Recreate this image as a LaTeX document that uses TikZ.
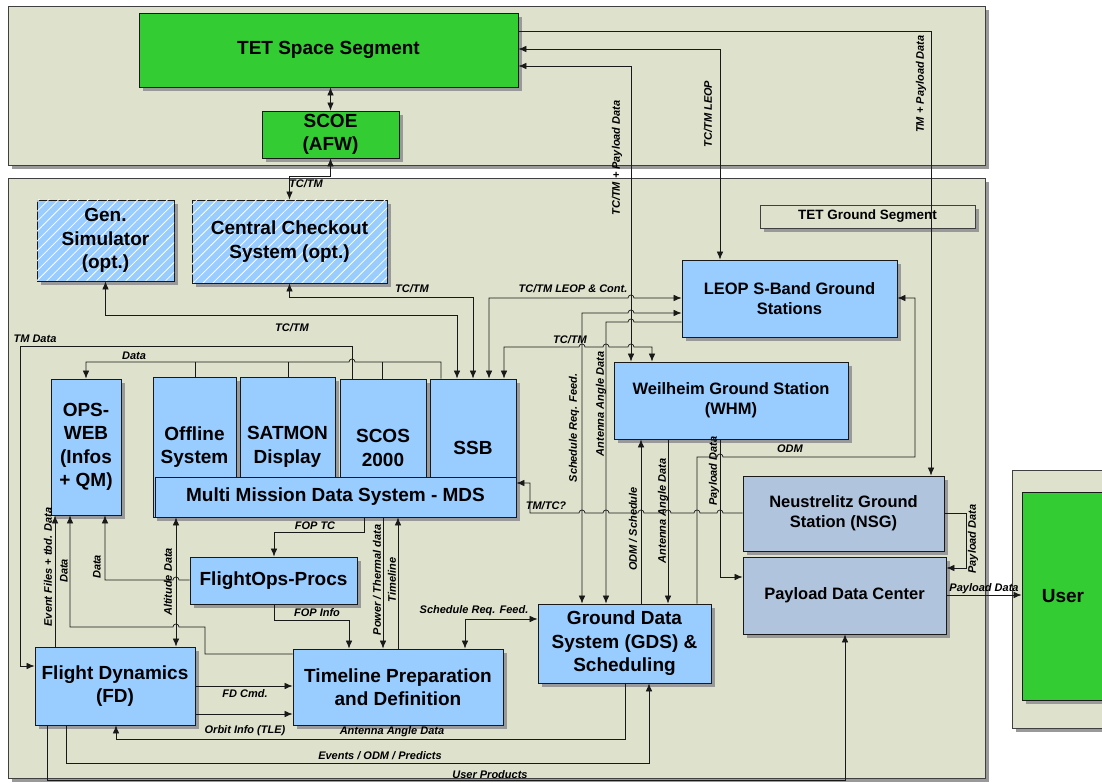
\documentclass[tikz,border=0pt]{standalone}
\usepackage{fontspec}
\setmainfont{Liberation Sans}
\usetikzlibrary{arrows.meta,shadows,patterns.meta}
\definecolor{panelc}{HTML}{DEE1CC}
\definecolor{boxblue}{HTML}{99CCFF}
\definecolor{nsgc}{HTML}{B0C4DE}
\definecolor{segreen}{HTML}{33CC33}
\newcommand{\BoxFont}{\bfseries\fontsize{19}{23.5}\selectfont}
\newcommand{\MidFont}{\bfseries\fontsize{16.5}{20}\selectfont}
\newcommand{\TgsFont}{\bfseries\fontsize{13.5}{16}\selectfont}
\newcommand{\LblFont}{\bfseries\itshape\fontsize{11}{12}\selectfont}
\def\jr#1#2{-- ({#1-3},#2) arc[start angle=180,end angle=360,radius=3] }
\def\jl#1#2{-- ({#1+3},#2) arc[start angle=0,end angle=-180,radius=3] }
\tikzset{
 sh/.style={drop shadow={shadow xshift=4pt,shadow yshift=-4pt,fill=black!40,opacity=1}},
 panel/.style={draw=black!75,fill=panelc,line width=0.8pt,sh,inner sep=0pt},
 box/.style={draw=black!90,fill=boxblue,line width=0.8pt,sh,inner sep=0pt,align=center,font=\BoxFont},
 gbox/.style={box,fill=segreen},
 sbox/.style={box,fill=nsgc},
 hbox/.style={box,postaction={pattern={Lines[angle=45,distance=7pt,line width=0.8pt]},pattern color=white}},
 conn/.style={draw=black!90,line width=0.7pt},
 lbl/.style={font=\LblFont,inner sep=1pt},
 vl/.style={lbl,rotate=90},
}
\begin{document}
\begin{tikzpicture}[x=1pt,y=-1pt,>={Latex[length=8pt,width=6.5pt]}]
\fill[white] (0,0) rectangle (1102,783);
\useasboundingbox (0,0) rectangle (1102,783);
% panels
\node[panel,minimum width=977pt,minimum height=159pt] (toppanel) at (496.5,85.5) {};
\node[panel,minimum width=977pt,minimum height=600pt] (botpanel) at (496.5,478) {};
\node[panel,minimum width=98pt,minimum height=258pt] (userpanel) at (1061,599) {};
% boxes
\node[gbox,minimum width=379pt,minimum height=74pt] (tet) at (328.5,50) {TET Space Segment};
\node[gbox,minimum width=137pt,minimum height=47pt] (scoe) at (330.5,134.5) {SCOE\\(AFW)};
\node[gbox,minimum width=82pt,minimum height=208pt] (user) at (1063,596) {User};
\node[hbox,minimum width=137pt,minimum height=81pt] (gensim) at (105.5,240.5) {Gen.\\Simulator\\(opt.)};
\node[hbox,minimum width=195pt,minimum height=83pt] (ccs) at (289.5,241.5) {Central Checkout\\System (opt.)};
\node[panel,font=\TgsFont,minimum width=215pt,minimum height=23pt] (tgs) at (867.5,216.5) {TET Ground Segment};
\node[box,font=\MidFont,minimum width=215pt,minimum height=77pt] (leop) at (789.5,298.5) {LEOP S-Band Ground\\Stations};
\node[box,font=\MidFont,minimum width=234pt,minimum height=77pt] (whm) at (731,400.5) {Weilheim Ground Station\\(WHM)};
\node[sbox,font=\MidFont,minimum width=201pt,minimum height=75pt] (nsg) at (843.5,513.5) {Neustrelitz Ground\\Station (NSG)};
\node[sbox,font=\MidFont,minimum width=203pt,minimum height=77pt] (pdc) at (844.5,595.5) {Payload Data Center};
\node[box,minimum width=173pt,minimum height=79pt] (gds) at (624.5,643.5) {Ground Data\\System (GDS) \&\\Scheduling};
\node[box,minimum width=210pt,minimum height=76pt] (tpd) at (398,687) {Timeline Preparation\\and Definition};
\node[box,minimum width=160pt,minimum height=78pt] (fd) at (115,686) {Flight Dynamics\\(FD)};
\node[box,minimum width=167pt,minimum height=47pt] (fop) at (273.5,580.5) {FlightOps-Procs};
\node[box,minimum width=70pt,minimum height=136pt] (opsweb) at (86,447) {OPS-\\WEB\\(Infos\\+ QM)};
\node[box,minimum width=83pt,minimum height=140pt] (offline) at (194.5,447) {Offline\\System};
\node[box,minimum width=95pt,minimum height=140pt] (satmon) at (287.5,447) {SATMON\\Display};
\node[box,minimum width=86pt,minimum height=138pt] (scos) at (383,448) {SCOS\\2000};
\node[box,minimum width=86pt,minimum height=138pt] (ssb) at (473,448) {SSB};
\node[box,minimum width=361pt,minimum height=40pt] (mds) at (335.5,497) {Multi Mission Data System - MDS};
% connectors
\draw[conn,<->] (tet.south -| scoe.north) -- (scoe.north);
\draw[conn,<->] (scoe.south) -- (scoe.south |- 0,176) -- (ccs.north |- 0,176) -- (ccs.north);
\draw[conn,->] (tet.east |- 0,31) -- (931,31) -- (nsg.north -| 931,0);
\draw[conn,<->] (tet.east |- 0,49) -- (720,49) -- (leop.north -| 720,0);
\draw[conn,<->] (tet.east |- 0,66) -- (631,66) -- (whm.north -| 631,0);
\draw[conn,<->] (ccs.south) -- (ccs.south |- 0,297) -- (473,297) -- (ssb.north -| 473,0);
\draw[conn,<->] (gensim.south) -- (gensim.south |- 0,315) -- (457,315) -- (ssb.north -| 457,0);
\draw[conn,<->] (ssb.north -| 489,0) -- (489,298) \jr{631}{298} -- (leop.west |- 0,298);
\draw[conn,<->] (gds.north -| 582,0) -- (582,313) \jr{631}{313} -- (leop.west |- 0,313);
\draw[conn,->] (leop.west |- 0,322) \jl{631}{322} -- (606,322) -- (gds.north -| 606,0);
\draw[conn,<->] (ssb.north -| 504,0) -- (504,347) \jr{582}{347} \jr{606}{347} \jr{631}{347} -- (652,347) -- (whm.north -| 652,0);
\draw[conn,->] (gds.north -| 641,0) -- (whm.south -| 641,0);
\draw[conn,->] (whm.south -| 668,0) -- (gds.north -| 668,0);
\draw[conn,->] (whm.south -| 720,0) -- (720,577) -- (pdc.west |- 0,577);
\draw[conn,->] (gds.north -| 697,0) -- (697,457) \jr{720}{457} -- (915,457) -- (915,298) -- (leop.east |- 0,298);
\draw[conn,->] (nsg.west |- 0,513) \jl{720}{513} \jl{697}{513} \jl{668}{513} \jl{641}{513} \jl{606}{513} \jl{582}{513} -- (530,513) -- (530,483) -- (mds.east |- 0,483);
\draw[conn,->] (nsg.east |- 0,513) -- (966,513) -- (966,568) -- (pdc.east |- 0,568);
\draw[conn,->] (pdc.east |- 0,595) -- (user.west |- 0,595);
\draw[conn,->] (fd.south -| 47,0) -- (47,780) -- (845,780) -- (pdc.south -| 845,0);
\draw[conn,->] (fd.south -| 66,0) -- (66,763) -- (649,763) -- (gds.south -| 649,0);
\draw[conn,->] (gds.south -| 625,0) -- (625,739) -- (116,739) -- (fd.south -| 116,0);
\draw[conn,->] (fd.east |- 0,686) -- (tpd.west |- 0,686);
\draw[conn,->] (fd.east |- 0,714) -- (tpd.west |- 0,714);
\draw[conn,->] (fop.south -| 274,0) -- (274,620) -- (349,620) -- (tpd.north -| 349,0);
\draw[conn,->] (mds.south -| 364,0) -- (364,532) -- (274,532) -- (fop.north -| 274,0);
\draw[conn,->] (mds.south -| 383,0) -- (tpd.north -| 383,0);
\draw[conn,->] (tpd.north -| 398,0) -- (mds.south -| 398,0);
\draw[conn,<->] (mds.south -| 176,0) -- (fd.north -| 176,0);
\draw[conn,->] (fop.west |- 0,580) \jl{176}{580} -- (105,580) -- (opsweb.south -| 105,0);
\draw[conn,->] (tpd.west |- 0,654) -- (205,654) -- (205,627) \jl{176}{627} -- (70,627) -- (opsweb.south -| 70,0);
\draw[conn,->] (fd.north -| 55,0) -- (opsweb.south -| 55,0);
\draw[conn,->] (scos.north -| 352,0) -- (352,346) -- (20,346) -- (20,666) -- (fd.west |- 0,666);
\draw[conn,->] (ssb.north -| 441,0) -- (441,362) \jl{352}{362} -- (86,362) -- (opsweb.north -| 86,0);
\draw[conn] (195,362) -- (offline.north -| 195,0);
\draw[conn] (288,362) -- (satmon.north -| 288,0);
\draw[conn] (382,362) -- (scos.north -| 382,0);
\draw[conn,<->] (tpd.north -| 465,0) -- (465,619) -- (gds.west |- 0,619);
% labels
\node[lbl] (l01) at (306,184) {TC/TM};
\node[lbl] (l02) at (412,289) {TC/TM};
\node[lbl] (l03) at (292,328) {TC/TM};
\node[lbl] (l04) at (35,339) {TM Data};
\node[lbl] (l05) at (134,356) {Data};
\node[lbl] (l06) at (573,289) {TC/TM LEOP \& Cont.};
\node[lbl] (l07) at (570,340) {TC/TM};
\node[lbl] (l08) at (790,449) {ODM};
\node[lbl] (l09) at (546,506) {TM/TC?};
\node[lbl] (l10) at (315,526) {FOP TC};
\node[lbl] (l11) at (317,613) {FOP Info};
\node[lbl] (l12) at (474,611) {Schedule Req. Feed.};
\node[lbl] (l13) at (245,694) {FD Cmd.};
\node[lbl] (l14) at (245,731) {Orbit Info (TLE)};
\node[lbl] (l15) at (392,732) {Antenna Angle Data};
\node[lbl] (l16) at (380,756) {Events / ODM / Predicts};
\node[lbl] (l17) at (490,775) {User Products};
\node[lbl] (l18) at (984,589) {Payload Data};
\node[vl] (v01) at (617,158) {TC/TM + Payload Data};
\node[vl] (v02) at (708,114) {TC/TM LEOP};
\node[vl] (v03) at (921,84) {TM + Payload Data};
\node[vl] (v04) at (574,428) {Schedule Req. Feed.};
\node[vl] (v05) at (601,404) {Antenna Angle Data};
\node[vl] (v06) at (633,529) {ODM / Schedule};
\node[vl] (v07) at (663,511) {Antenna Angle Data};
\node[vl] (v08) at (714,471) {Payload Data};
\node[vl] (v09) at (973,539) {Payload Data};
\node[vl] (v10) at (48,567) {Event Files + tbd. Data};
\node[vl] (v11) at (64,571) {Data};
\node[vl] (v12) at (97,567) {Data};
\node[vl] (v13) at (168,582) {Altitude Data};
\node[vl] (v14) at (377,580) {Power / Thermal data};
\node[vl] (v15) at (392,580) {Timeline};
\end{tikzpicture}
\end{document}
